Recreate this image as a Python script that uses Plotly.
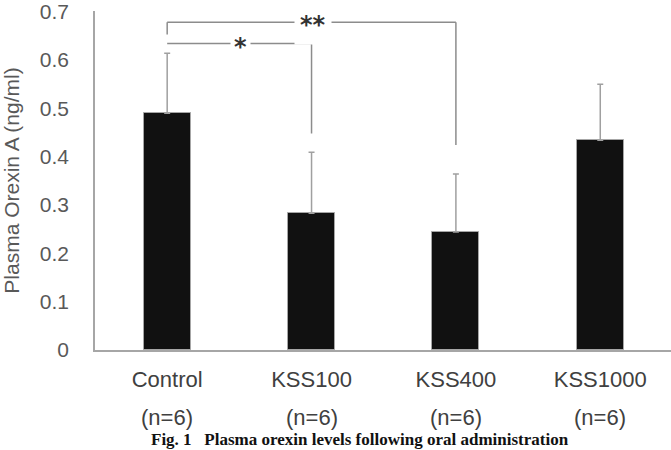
import plotly.graph_objects as go

categories = ["Control", "KSS100", "KSS400", "KSS1000"]
n_labels = ["(n=6)", "(n=6)", "(n=6)", "(n=6)"]
means = [0.490, 0.283, 0.244, 0.434]
sd = [0.124, 0.126, 0.120, 0.116]
tick_vals = [0, 0.1, 0.2, 0.3, 0.4, 0.5, 0.6, 0.7]
tick_text = ["0", "0.1", "0.2", "0.3", "0.4", "0.5", "0.6", "0.7"]

# significance brackets: (from index, to index, bracket height, left drop, right drop, label)
brackets = [
    (0, 1, 0.634, 0.634, 0.448, "*"),
    (0, 2, 0.678, 0.653, 0.424, "**"),
]

LINE = "#8c8c8c"

fig = go.Figure()
fig.add_trace(go.Bar(
    x=categories, y=means, width=0.325,
    marker=dict(color="#111111", line=dict(color="#a6a6a6", width=1)),
    error_y=dict(type="data", symmetric=False, array=sd, arrayminus=[0]*len(sd),
                 color="#a0a0a0", thickness=1.5, width=3),
    showlegend=False,
))

for i0, i1, h, dl, dr, lab in brackets:
    x0 = categories[i0]
    x1 = categories[i1]
    fig.add_shape(type="line", xref="x", yref="y", x0=x0, x1=x0, y0=dl, y1=h,
                  line=dict(color=LINE, width=1.5))
    fig.add_shape(type="line", xref="x", yref="y", x0=x0, x1=x1, y0=h, y1=h,
                  line=dict(color=LINE, width=1.5))
    fig.add_shape(type="line", xref="x", yref="y", x0=x1, x1=x1, y0=h, y1=dr,
                  line=dict(color=LINE, width=1.5))

# labels on brackets (white background creates the gap in the line)
fig.add_annotation(x=0.51, y=0.634, xref="x", yref="y", text="<b>*</b>", showarrow=False,
                   font=dict(family="DejaVu Sans", size=24, color="#333333"),
                   bgcolor="white", borderpad=3, yshift=-3)
fig.add_annotation(x=1.01, y=0.678, xref="x", yref="y", text="<b>**</b>", showarrow=False,
                   font=dict(family="DejaVu Sans", size=24, color="#333333"),
                   bgcolor="white", borderpad=5, yshift=-3)

for c, n in zip(categories, n_labels):
    fig.add_annotation(x=c, y=0, xref="x", yref="paper", text=n, showarrow=False,
                       yanchor="middle",
                       font=dict(family="Liberation Sans", size=22, color="#404040"),
                       yshift=-67)

fig.add_annotation(x=0.46, y=0, xref="paper", yref="paper",
                   text="<b>Fig. 1   Plasma orexin levels following oral administration</b>",
                   showarrow=False, xanchor="center", yanchor="bottom",
                   font=dict(family="Liberation Serif", size=17, color="#111111"),
                   yshift=-101)

fig.update_layout(
    width=671, height=450,
    margin=dict(l=95, r=0, t=11, b=100),
    paper_bgcolor="white", plot_bgcolor="white",
    bargap=0,
    xaxis=dict(range=[-0.5, 3.49], showline=True, linecolor="#a6a6a6", linewidth=1.5,
               showgrid=False, ticks="", ticklabelstandoff=9,
               tickfont=dict(family="Liberation Sans", size=22, color="#404040")),
    yaxis=dict(range=[0, 0.7015], tickvals=tick_vals, ticktext=tick_text,
               showline=True, linecolor="#a6a6a6", linewidth=1.5, showgrid=False,
               zeroline=False, ticks="", ticklabelstandoff=20,
               tickfont=dict(family="Liberation Sans", size=21, color="#595959"),
               title=dict(text="Plasma Orexin A (ng/ml)", standoff=14,
                          font=dict(family="Liberation Sans", size=21, color="#595959"))),
)

fig.write_html("out.html")
